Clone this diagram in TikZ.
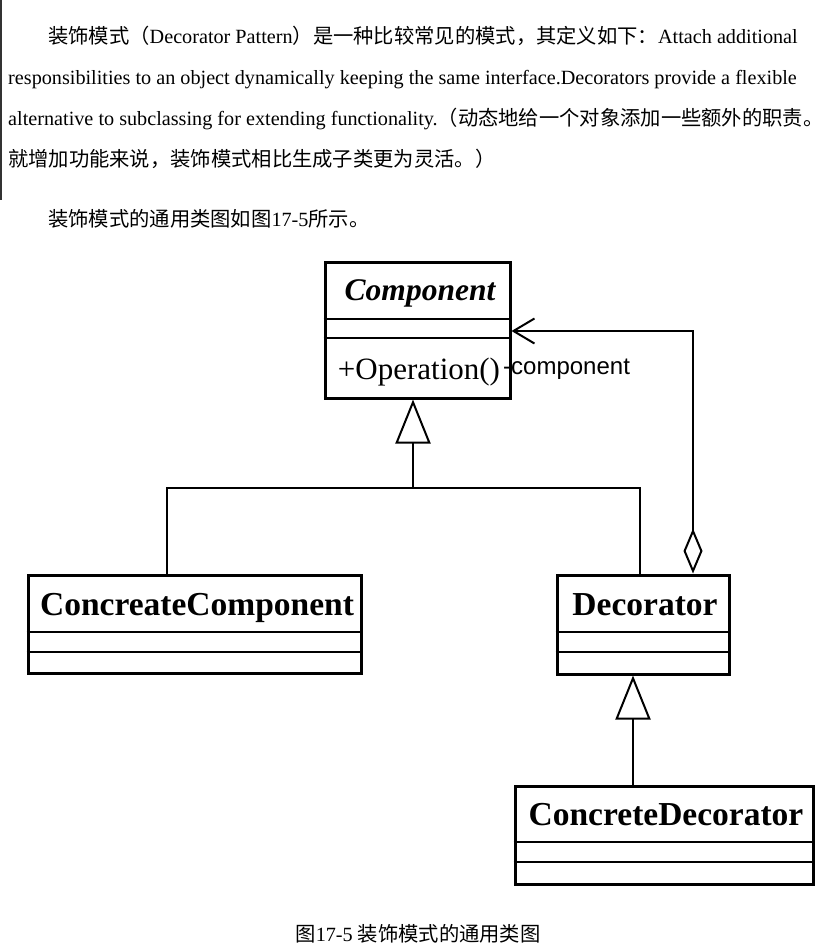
\documentclass[tikz,border=0pt]{standalone}
\usepackage{fontspec}
\setmainfont{Liberation Serif}
\newfontfamily\cjk{Noto Sans CJK SC}
\newfontfamily\arialf{Liberation Sans}
\newcommand\zhtxt[1]{{\cjk\fontsize{20.3}{20.3}\selectfont #1}}
\usetikzlibrary{arrows.meta}
\begin{document}
\begin{tikzpicture}[x=1pt,y=-1pt,
  txt/.style={inner sep=0pt,anchor=base west,font=\fontsize{20.2}{20.2}\selectfont},
  classbox/.style={draw,line width=3pt,inner sep=0pt},
  divline/.style={line width=2pt},
  conn/.style={line width=2pt},
  gen/.style={conn,-{Triangle[open,length=44pt,width=35pt,line width=2pt,fill=white]}},
  agg/.style={conn,{Diamond[open,length=45pt,width=19pt,line width=2pt,fill=white]}-{Straight Barb[length=21pt,width=25pt,line width=2pt]}},
  title/.style={inner sep=0pt,anchor=base,font=\fontsize{33.5}{33.5}\selectfont\bfseries},
]
\useasboundingbox (0,0) rectangle (824,951);
\draw[line width=1.5pt,black!80] (0.75,0) -- (0.75,200);
% text
\node[txt] (l1) at (48,43) {\zhtxt{装饰模式（}Decorator Pattern\zhtxt{）是一种比较常见的模式，其定义如下：}Attach additional};
\node[txt] (l2) at (8,84) {responsibilities to an object dynamically keeping the same interface.Decorators provide a flexible};
\node[txt] (l3) at (8,125) {alternative to subclassing for extending functionality.\zhtxt{（动态地给一个对象添加一些额外的职责。}};
\node[txt] (l4) at (8,166) {\zhtxt{就增加功能来说，装饰模式相比生成子类更为灵活。）}};
\node[txt] (l5) at (48,226) {\zhtxt{装饰模式的通用类图如图}17-5\zhtxt{所示。}};
\node[txt,anchor=base] (cap) at (418,941) {\zhtxt{图}17-5 \zhtxt{装饰模式的通用类图}};
% boxes
\node[classbox,minimum width=185pt,minimum height=136pt] (comp) at (417.5,330) {};
\node[classbox,minimum width=333pt,minimum height=98pt] (cc) at (194.5,624) {};
\node[classbox,minimum width=172pt,minimum height=99pt] (dec) at (643,624.5) {};
\node[classbox,minimum width=298pt,minimum height=98pt] (cd) at (664,835) {};
% dividers
\foreach \b/\a/\c in {comp/58/77, cc/58/78, dec/58/78, cd/57/77}{
  \draw[divline] ([yshift=-\a pt]\b.north west) -- ([yshift=-\a pt]\b.north east);
  \draw[divline] ([yshift=-\c pt]\b.north west) -- ([yshift=-\c pt]\b.north east);
}
% titles
\node[title,font=\fontsize{31.5}{31.5}\selectfont\bfseries\itshape] (compt) at (420,300) {Component};
\node[inner sep=0pt,anchor=base,font=\fontsize{31}{31}\selectfont] (op) at (419,379) {+Operation()};
\node[title] (cct) at (197,615) {ConcreateComponent};
\node[title] (dect) at (645,615) {Decorator};
\node[title] (cdt) at (666,825) {ConcreteDecorator};
% connectors
\coordinate (j) at (413,488);
\coordinate (xa) at (167,0);
\coordinate (xb) at (640,0);
\coordinate (xc) at (633,0);
\coordinate (xd) at (693,0);
\coordinate (ya) at (0,331);
\draw[conn] (cc.north -| xa) |- (j);
\draw[conn] (dec.north -| xb) |- (j);
\draw[gen] (j) -- (comp.south -| j);
\draw[gen] (cd.north -| xc) -- (dec.south -| xc);
\draw[agg] (dec.north -| xd) |- (comp.east |- ya);
\node[inner sep=0pt,anchor=base west,font=\arialf\fontsize{24}{24}\selectfont] (lbl) at (503,374) {-component};
\end{tikzpicture}
\end{document}
